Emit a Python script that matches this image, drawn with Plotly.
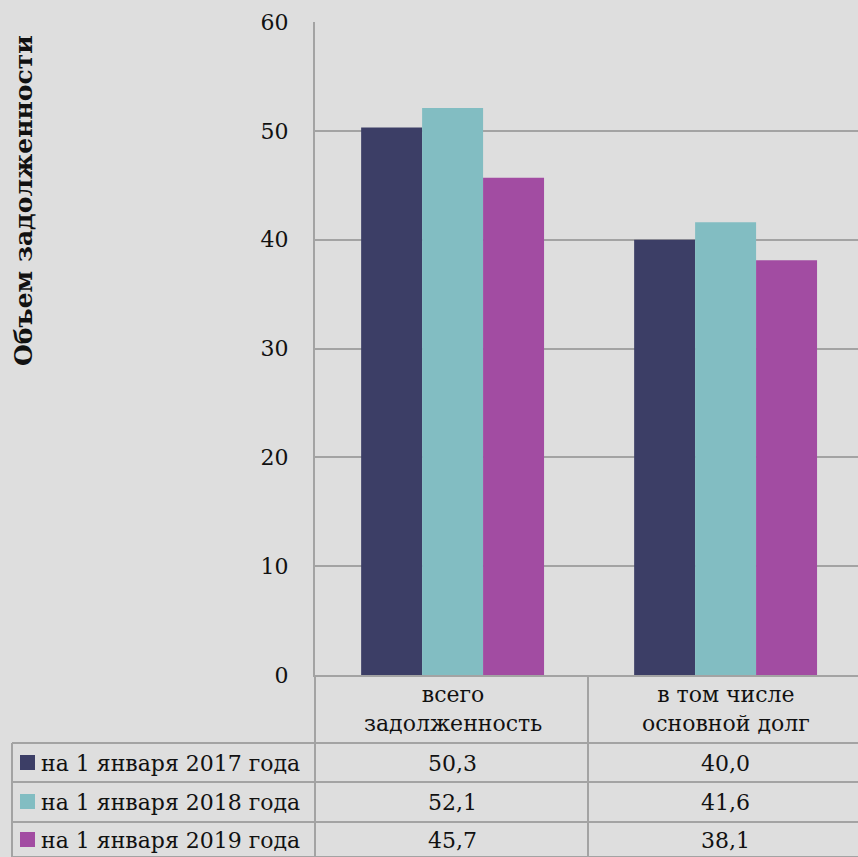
import plotly.graph_objects as go

categories = ["всего<br>задолженность", "в том числе<br>основной долг"]
series_names = ["на 1 января 2017 года", "на 1 января 2018 года", "на 1 января 2019 года"]
values_2017 = [50.3, 40.0]
values_2018 = [52.1, 41.6]
values_2019 = [45.7, 38.1]
series_values = [values_2017, values_2018, values_2019]
colors = ["#3c3e66", "#82bdc2", "#a24ca2"]
y_title = "Объем задолженности"

W, H = 858, 857
FONT = "DejaVu Serif"
GRID = "#a3a3a3"
BG = "#dedede"

def px(x):
    return x / W

def py(y):
    return 1 - y / H

fig = go.Figure()
for name, vals, col in zip(series_names, series_values, colors):
    fig.add_trace(go.Bar(x=categories, y=vals, name=name,
                         marker=dict(color=col, line=dict(width=0))))

shapes = []
annotations = []

def hline(y, x0, x1):
    shapes.append(dict(type="line", xref="paper", yref="paper",
                       x0=px(x0), x1=px(x1), y0=py(y), y1=py(y),
                       line=dict(color=GRID, width=2)))

def vline(x, y0, y1):
    shapes.append(dict(type="line", xref="paper", yref="paper",
                       x0=px(x), x1=px(x), y0=py(y0), y1=py(y1),
                       line=dict(color=GRID, width=2)))

# table grid
row_lines = [743, 782, 822, 857]
for yy in row_lines:
    hline(yy, 12, 858)
vline(12, 743, 857)
vline(315, 675, 857)
vline(588, 675, 857)

col_centers = [452.5, 725.5]
# header (category labels)
for cat, xc in zip(categories, col_centers):
    annotations.append(dict(xref="paper", yref="paper", x=px(xc), y=py(709),
                            text=cat, showarrow=False, xanchor="center", yanchor="middle",
                            font=dict(family=FONT, size=22, color="#111")))

row_centers = [763, 802, 840]
for name, vals, col, yc in zip(series_names, series_values, colors, row_centers):
    shapes.append(dict(type="rect", xref="paper", yref="paper",
                       x0=px(20), x1=px(35), y0=py(yc - 8), y1=py(yc + 7),
                       fillcolor=col, line=dict(width=0)))
    annotations.append(dict(xref="paper", yref="paper", x=px(39), y=py(yc),
                            text=name, showarrow=False, xanchor="left", yanchor="middle",
                            font=dict(family=FONT, size=22, color="#111")))
    for v, xc in zip(vals, col_centers):
        annotations.append(dict(xref="paper", yref="paper", x=px(xc), y=py(yc),
                                text=f"{v:.1f}".replace(".", ","), showarrow=False,
                                xanchor="center", yanchor="middle",
                                font=dict(family=FONT, size=22, color="#111")))

annotations.append(dict(xref="paper", yref="paper", x=px(23), y=py(201),
                        text=f"<b>{y_title}</b>", showarrow=False, textangle=-90,
                        xanchor="center", yanchor="middle",
                        font=dict(family=FONT, size=25, color="#111")))

fig.update_layout(
    width=W, height=H,
    margin=dict(l=0, r=0, t=0, b=0, pad=0),
    paper_bgcolor=BG, plot_bgcolor=BG,
    barmode="group", bargap=0.33, bargroupgap=0,
    showlegend=False,
    shapes=shapes, annotations=annotations,
    xaxis=dict(domain=[px(315), 1], range=[-0.504, 1.485],
               showticklabels=False, showgrid=False,
               showline=True, linecolor=GRID, linewidth=2, ticks="",
               automargin=False),
    yaxis=dict(domain=[py(675), py(22)], range=[0, 60], dtick=10,
               showgrid=True, gridcolor=GRID, gridwidth=2,
               showline=True, linecolor=GRID, linewidth=2, zeroline=False,
               ticks="", ticklabelstandoff=20, automargin=False,
               tickfont=dict(family=FONT, size=22, color="#111")),
)

fig.write_html("out.html", config={"displayModeBar": False},
               post_script="document.body.style.margin='0';document.body.style.overflow='hidden';")
